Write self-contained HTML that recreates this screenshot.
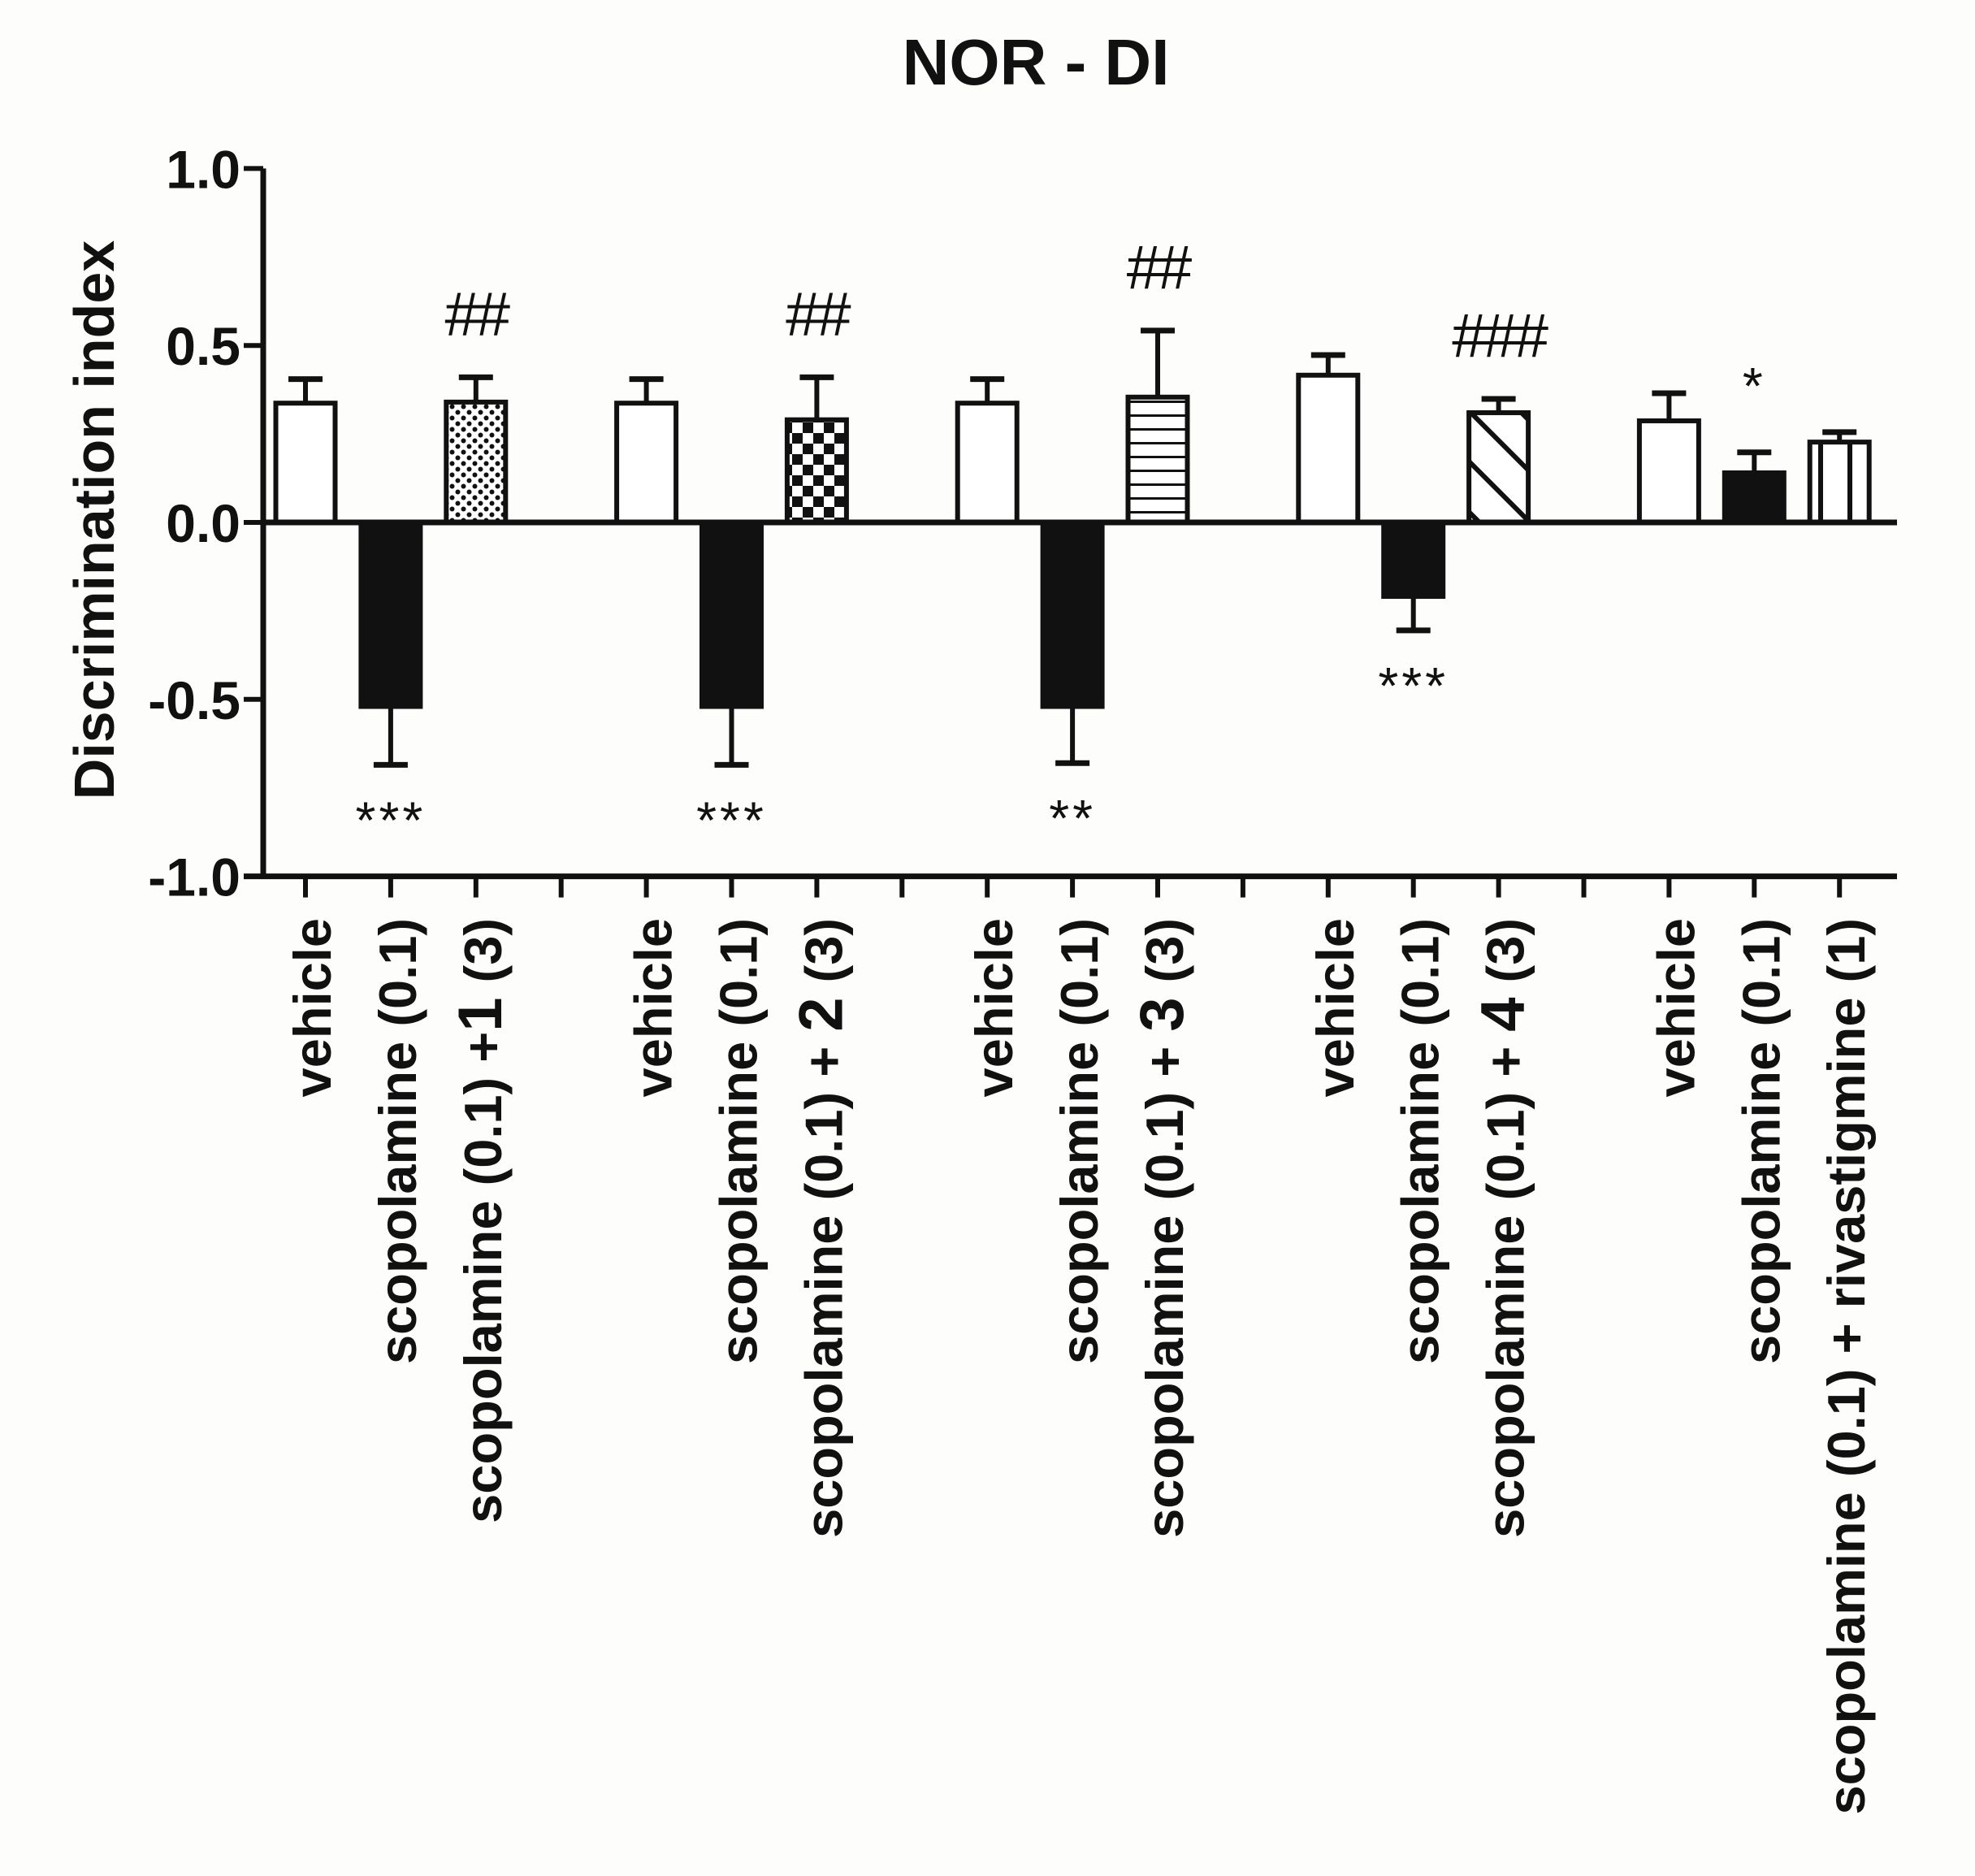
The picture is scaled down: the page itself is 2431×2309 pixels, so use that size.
<!DOCTYPE html>
<html><head><meta charset="utf-8"><style>
html,body{margin:0;padding:0;background:#fdfdfb;}
svg{display:block;}
text{font-family:"Liberation Sans",sans-serif;fill:#111;}
</style></head><body>
<svg id="chart" width="2431" height="2309" viewBox="0 0 2431 2309">
<defs>
<pattern id="p-dots" width="14" height="14" patternUnits="userSpaceOnUse"><rect width="14" height="14" fill="#fff"/><circle cx="3.5" cy="3.5" r="3" fill="#111"/><circle cx="10.5" cy="10.5" r="3" fill="#111"/></pattern>
<pattern id="p-check" width="26" height="26" patternUnits="userSpaceOnUse"><rect width="26" height="26" fill="#fff"/><rect width="13" height="13" fill="#111"/><rect x="13" y="13" width="13" height="13" fill="#111"/></pattern>
<pattern id="p-hlines" width="10" height="17" patternUnits="userSpaceOnUse"><rect width="10" height="17" fill="#fff"/><rect y="0" width="10" height="3" fill="#111"/></pattern>
<pattern id="p-diag" width="44" height="44" patternUnits="userSpaceOnUse" patternTransform="rotate(45)"><rect width="44" height="44" fill="#fff"/><rect width="44" height="6" fill="#111"/></pattern>
<pattern id="p-vert" width="36" height="10" patternUnits="userSpaceOnUse" x="2222"><rect width="36" height="10" fill="#fff"/><rect x="16" width="6" height="10" fill="#111"/></pattern>
</defs>
<text x="1275" y="104" font-size="80" font-weight="bold" text-anchor="middle">NOR - DI</text>
<text transform="translate(140,640) rotate(-90)" font-size="70" font-weight="bold" text-anchor="middle">Discrimination index</text>
<g id="plot"></g>
</svg>
<script>
const yTicks = [1.0, 0.5, 0.0, -0.5, -1.0];
const yTickLabels = ["1.0", "0.5", "0.0", "-0.5", "-1.0"];
const slots = [0,1,2,4,5,6,8,9,10,12,13,14,16,17,18];
const values = [0.337,-0.52,0.34, 0.337,-0.52,0.29, 0.337,-0.52,0.354, 0.416,-0.209,0.31, 0.287,0.14,0.227];
const errors = [0.068,0.165,0.07, 0.068,0.165,0.12, 0.068,0.16,0.188, 0.057,0.096,0.039, 0.078,0.058,0.028];
const fills = ["#fff","#111","url(#p-dots)","#fff","#111","url(#p-check)","#fff","#111","url(#p-hlines)","#fff","#111","url(#p-diag)","#fff","#111","url(#p-vert)"];
const annotations = ["","***","##","","***","##","","**","##","","***","###","","*",""];
const labels = ["vehicle","scopolamine (0.1)","scopolamine (0.1) +|1|  (3)","vehicle","scopolamine (0.1)","scopolamine (0.1) + |2|  (3)","vehicle","scopolamine (0.1)","scopolamine (0.1) + |3|  (3)","vehicle","scopolamine (0.1)","scopolamine (0.1) + |4|  (3)","vehicle","scopolamine (0.1)","scopolamine (0.1) + rivastigmine (1)"];

const NS = "http://www.w3.org/2000/svg";
const plot = document.getElementById('plot');
const y = v => 643 - v * 435.6;
const x = s => 376 + s * 104.9;
const BW = 73;
function mk(tag, attrs, parent) {
  const e = document.createElementNS(NS, tag);
  for (const k in attrs) e.setAttribute(k, attrs[k]);
  (parent || plot).appendChild(e);
  return e;
}
let ax = mk('line', {x1:324, y1:y(1), x2:324, y2:y(-1), stroke:'#111', 'stroke-width':7});


yTicks.forEach((v, i) => {
  const t = mk('line', {x1:300, y1:y(v), x2:324, y2:y(v), stroke:'#111', 'stroke-width':6});
  
  
  const l = mk('text', {x:296, y:y(v)+24, 'font-size':66, 'font-weight':'bold', 'text-anchor':'end'});
  l.textContent = yTickLabels[i];
  
  
});
slots.forEach((s, i) => {
  const v = values[i], cx = x(s);
  const e = errors[i];
  const tipY = y(v + (v >= 0 ? e : -e));
  const eb = mk('line', {x1:cx, y1:y(v), x2:cx, y2:tipY, stroke:'#111', 'stroke-width':6});
  
  
  const cap = mk('line', {x1:cx-21, y1:tipY, x2:cx+21, y2:tipY, stroke:'#111', 'stroke-width':7});
  
  
  const top = Math.min(y(v), y(0)), h = Math.abs(y(v) - y(0));
  const r = mk('rect', {x:cx-BW/2, y:top, width:BW, height:h, fill:fills[i], stroke:'#111', 'stroke-width':6});
  
  
  if (annotations[i]) {
    const hash = annotations[i][0] === '#';
    let ay;
    if (hash) ay = tipY - 52;
    else if (v >= 0) ay = tipY - 60;
    else ay = tipY + 90;
    const a = mk('text', {x:cx, y:ay, 'font-size': hash ? 76 : 64, 'text-anchor':'middle', 'font-family': hash ? '"Liberation Serif", serif' : '"Liberation Sans", sans-serif', 'letter-spacing': hash ? -4 : 4});
    a.textContent = annotations[i];
    
    
  }
  const lab = mk('text', {transform:`translate(${cx+31},1130) rotate(-90)`, 'font-size':65, 'font-weight':'bold', 'text-anchor':'end', 'xml:space':'preserve'});
  labels[i].split('|').forEach((part, k) => {
    const ts = mk('tspan', k === 1 ? {'font-size':76} : {}, lab);
    ts.textContent = part;
  });
  
  
});
let zl = mk('line', {x1:324, y1:y(0), x2:2335, y2:y(0), stroke:'#111', 'stroke-width':7});


let xa = mk('line', {x1:300, y1:y(-1), x2:2335, y2:y(-1), stroke:'#111', 'stroke-width':7});


for (let s = 0; s <= 18; s++) {
  const t = mk('line', {x1:x(s), y1:y(-1), x2:x(s), y2:y(-1)+26, stroke:'#111', 'stroke-width':6});
  
  
}
</script>
</body></html>
